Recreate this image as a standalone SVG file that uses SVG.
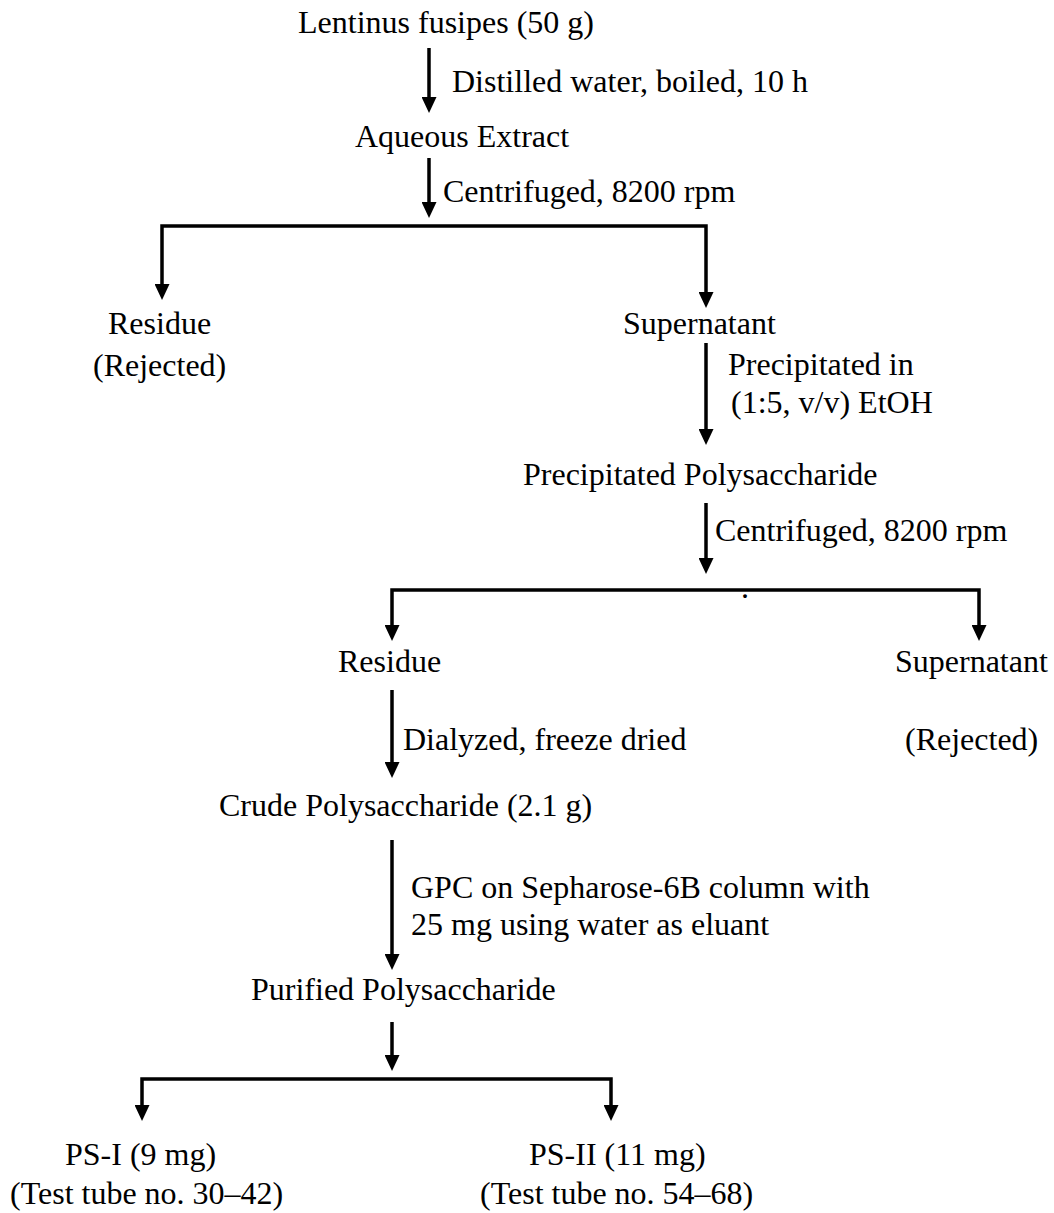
<svg xmlns="http://www.w3.org/2000/svg" width="1054" height="1213" viewBox="0 0 1054 1213">
<style>
text{font-family:"Liberation Serif","Times New Roman",serif;font-size:32px;fill:#000}
.c{fill:none;stroke:#000;stroke-width:3.5;stroke-linejoin:miter}
</style>
<defs>
<marker id="ah" markerUnits="userSpaceOnUse" viewBox="0 0 16 15" markerWidth="16" markerHeight="15" refX="6" refY="7.5" orient="auto-start-reverse">
<path d="M0,0 L16,7.5 L0,15 z" fill="#000"/>
</marker>
</defs>
<rect width="1054" height="1213" fill="#fff"/>
<g id="connectors">
<path class="c" d="M429,48 V103" marker-end="url(#ah)"/>
<path class="c" d="M429,158 V208" marker-end="url(#ah)"/>
<path class="c" d="M162,290 V226 H706 V298" marker-start="url(#ah)" marker-end="url(#ah)"/>
<path class="c" d="M706,343 V435" marker-end="url(#ah)"/>
<path class="c" d="M706,503 V564" marker-end="url(#ah)"/>
<path class="c" d="M392,631 V590 H979 V631" marker-start="url(#ah)" marker-end="url(#ah)"/>
<path class="c" d="M392,690 V768" marker-end="url(#ah)"/>
<path class="c" d="M392,840 V960" marker-end="url(#ah)"/>
<path class="c" d="M392,1022 V1061" marker-end="url(#ah)"/>
<path class="c" d="M142,1111 V1079 H611 V1111" marker-start="url(#ah)" marker-end="url(#ah)"/>
</g>
<g id="n-lentinus"><text x="298" y="33">Lentinus fusipes (50 g)</text></g>
<g id="e-distilled"><text x="452" y="92">Distilled water, boiled, 10 h</text></g>
<g id="n-aqueous"><text x="355" y="147">Aqueous Extract</text></g>
<g id="e-centrifuged1"><text x="443" y="202">Centrifuged, 8200 rpm</text></g>
<g id="n-residue1"><text x="108" y="334">Residue</text><text x="93" y="376">(Rejected)</text></g>
<g id="n-supernatant1"><text x="623" y="334">Supernatant</text></g>
<g id="e-precip"><text x="728" y="375">Precipitated in</text><text x="731" y="413">(1:5, v/v) EtOH</text></g>
<g id="n-precip-ps"><text x="523" y="485">Precipitated Polysaccharide</text></g>
<g id="e-centrifuged2"><text x="715" y="541">Centrifuged, 8200 rpm</text></g>
<g id="stray-dot"><text x="741" y="598">.</text></g>
<g id="n-residue2"><text x="338" y="672">Residue</text></g>
<g id="n-supernatant2"><text x="895" y="672">Supernatant</text><text x="905" y="750">(Rejected)</text></g>
<g id="e-dialyzed"><text x="403" y="750">Dialyzed, freeze dried</text></g>
<g id="n-crude"><text x="219" y="816">Crude Polysaccharide (2.1 g)</text></g>
<g id="e-gpc"><text x="411" y="898">GPC on Sepharose-6B column with</text><text x="411" y="935">25 mg using water as eluant</text></g>
<g id="n-purified"><text x="251" y="1000">Purified Polysaccharide</text></g>
<g id="n-ps1"><text x="65" y="1165">PS-I (9 mg)</text><text x="10" y="1204">(Test tube no. 30–42)</text></g>
<g id="n-ps2"><text x="529" y="1165">PS-II (11 mg)</text><text x="480" y="1204">(Test tube no. 54–68)</text></g>
</svg>
